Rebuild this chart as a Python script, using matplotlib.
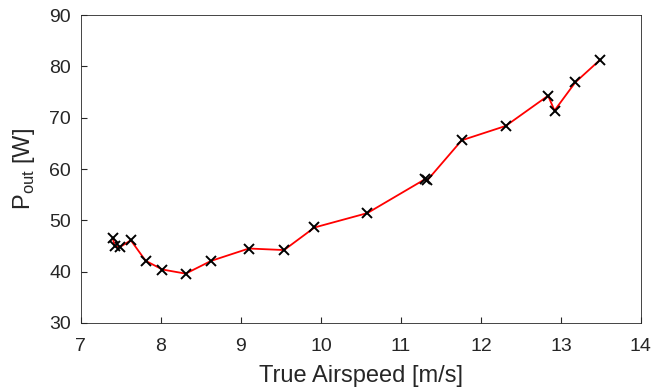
import matplotlib
matplotlib.use("Agg")
import matplotlib.pyplot as plt

plt.rcParams['font.family'] = ['Liberation Sans', 'DejaVu Sans']
plt.rcParams['mathtext.fontset'] = 'custom'
plt.rcParams['mathtext.rm'] = 'Liberation Sans'

airspeed = [7.40, 7.425, 7.49, 7.625, 7.81, 8.02, 8.31, 8.63, 9.10, 9.54, 9.92,
            10.58, 11.30, 11.33, 11.76, 12.31, 12.84, 12.92, 13.18, 13.49]
p_out = [46.5, 44.9, 44.8, 46.1, 42.1, 40.4, 39.6, 42.1, 44.5, 44.2, 48.6,
         51.4, 58.0, 57.8, 65.6, 68.4, 74.3, 71.4, 76.9, 81.3]

fig = plt.figure(figsize=(6.52, 3.89), dpi=100)
ax = fig.add_axes([0.124, 0.170, 0.859, 0.791])

ax.plot(airspeed, p_out, color='red', lw=1.3, zorder=1)
ax.plot(airspeed, p_out, 'x', color='black', ms=7.8, mew=1.4, zorder=2)

ax.set_xlim(7, 14)
ax.set_ylim(30, 90)
ax.set_xticks(range(7, 15))
ax.set_yticks(range(30, 91, 10))
ax.tick_params(direction='in', labelsize=14, colors='#262626', length=4.5,
               top=False, right=False)
ax.tick_params(axis='x', pad=11)
ax.tick_params(axis='y', pad=7)
for s in ax.spines.values():
    s.set_color('#262626')
    s.set_linewidth(0.6)

ax.set_xlabel('True Airspeed [m/s]', fontsize=17, color='#262626', labelpad=7)
ax.set_ylabel(r'P$_{\rm out}$ [W]', fontsize=17, color='#262626', labelpad=9)

fig.savefig('out.png', dpi=100)
